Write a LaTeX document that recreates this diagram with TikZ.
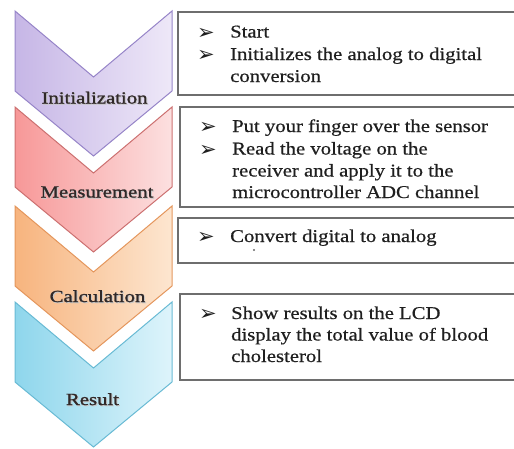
\documentclass[tikz,border=0pt]{standalone}
\usepackage{fontspec}
\setmainfont{Liberation Serif}
\newfontfamily\boxfont[FakeStretch=1.15,FakeBold=0.6]{Liberation Serif}
\newfontfamily\labelfont[FakeStretch=1.22,FakeBold=1.2]{Liberation Serif}
\newfontfamily\symfont{DejaVu Sans}

\definecolor{purpleL}{RGB}{198,182,230}
\definecolor{purpleR}{RGB}{238,232,248}
\definecolor{purpleB}{RGB}{150,132,200}
\definecolor{redL}{RGB}{247,152,152}
\definecolor{redR}{RGB}{252,224,224}
\definecolor{redB}{RGB}{204,112,112}
\definecolor{orangeL}{RGB}{247,180,126}
\definecolor{orangeR}{RGB}{253,230,208}
\definecolor{orangeB}{RGB}{228,150,92}
\definecolor{blueL}{RGB}{142,214,236}
\definecolor{blueR}{RGB}{222,244,251}
\definecolor{blueB}{RGB}{104,186,212}
\definecolor{boxline}{RGB}{110,110,110}
\definecolor{labeltext}{RGB}{48,40,40}

% one downward chevron whose top edge sits at y = #1
\newcommand\drawchevron[4]{%
  \shade[left color=#2,right color=#3]
    (15,#1) -- (93.5,#1+66) -- (172,#1) -- (172,#1+80)
    -- (93.5,#1+145) -- (15,#1+80) -- cycle;
  \draw[#4,line width=1pt,line join=miter]
    (15,#1) -- (93.5,#1+66) -- (172,#1) -- (172,#1+80)
    -- (93.5,#1+145) -- (15,#1+80) -- cycle;
}

% open box (top, left and bottom edges) running off the right margin
\newcommand\drawtextbox[3]{%
  \draw[boxline,line width=1.3pt] (520,#2) -- (#1,#2) -- (#1,#3) -- (520,#3);
}

\begin{document}
\begin{tikzpicture}[x=1pt,y=-1pt,
  stage/.style={font=\labelfont\fontsize{17}{20}\selectfont,text=labeltext,
    inner sep=0pt,anchor=base},
  stageshadow/.style={font=\labelfont\fontsize{17}{20}\selectfont,text=black!22,
    inner sep=0pt,anchor=base},
  line/.style={font=\boxfont\fontsize{18}{22}\selectfont,text=black!88,
    inner sep=0pt,anchor=base west},
  arrowbullet/.style={font=\symfont\fontsize{21}{22}\selectfont,text=black!88,
    inner sep=0pt,anchor=base west}
]
\useasboundingbox (0,0) rectangle (514,448);

% stage chevrons
\drawchevron{11}{purpleL}{purpleR}{purpleB}
\drawchevron{107}{redL}{redR}{redB}
\drawchevron{206}{orangeL}{orangeR}{orangeB}
\drawchevron{302}{blueL}{blueR}{blueB}

% stage labels
\node[stageshadow] (s1s) at (95.5,104.5) {Initialization};
\node[stage] (s1) at (94.5,103.5) {Initialization};
\node[stageshadow] (s2s) at (98,198.5) {Measurement};
\node[stage] (s2) at (97,197.5) {Measurement};
\node[stageshadow] (s3s) at (98.5,303) {Calculation};
\node[stage] (s3) at (97.5,302) {Calculation};
\node[stageshadow] (s4s) at (93.5,406) {Result};
\node[stage] (s4) at (92.5,405) {Result};

% description boxes
\drawtextbox{178}{12}{95}
\drawtextbox{180}{107}{207}
\drawtextbox{178}{218}{263}
\drawtextbox{180}{294}{380}

% box 1
\node[arrowbullet] (b1a) at (197,39) {➢};
\node[line] (b1t1) at (230,37.5) {Start};
\node[arrowbullet] (b1b) at (197,61.5) {➢};
\node[line] (b1t2) at (230,60) {Initializes the analog to digital};
\node[line] (b1t3) at (230,82) {conversion};

% box 2
\node[arrowbullet] (b2a) at (199,133.5) {➢};
\node[line] (b2t1) at (232,132) {Put your finger over the sensor};
\node[arrowbullet] (b2b) at (199,156) {➢};
\node[line] (b2t2) at (232,154.5) {Read the voltage on the};
\node[line] (b2t3) at (232,176.5) {receiver and apply it to the};
\node[line] (b2t4) at (232,198) {microcontroller ADC channel};

% box 3
\node[arrowbullet] (b3a) at (197,243.5) {➢};
\node[line] (b3t1) at (230,242) {Convert digital to analog};
\fill[black!60] (254,250) circle (1.1);

% box 4
\node[arrowbullet] (b4a) at (199,320.5) {➢};
\node[line] (b4t1) at (231,319) {Show results on the LCD};
\node[line] (b4t2) at (231,340.5) {display the total value of blood};
\node[line] (b4t3) at (231,362) {cholesterol};
\end{tikzpicture}
\end{document}
